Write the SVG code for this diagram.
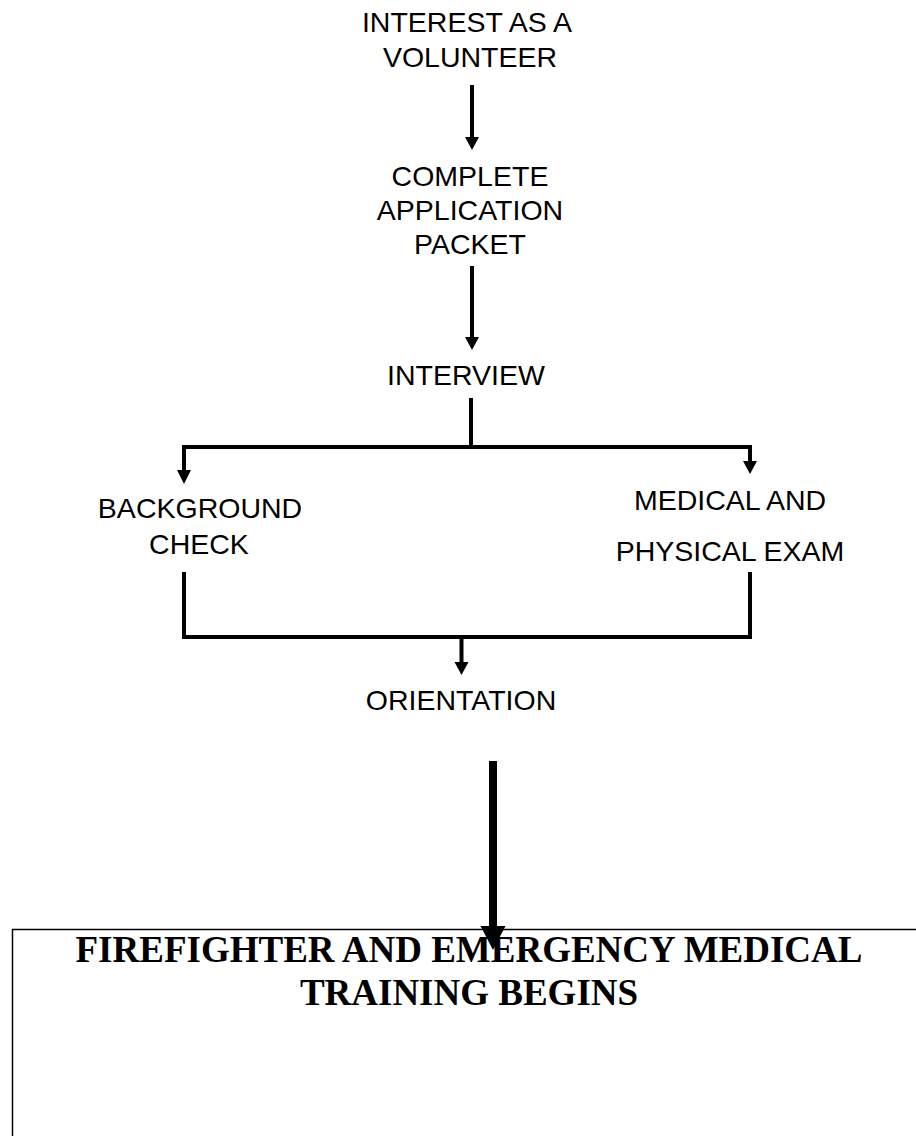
<svg xmlns="http://www.w3.org/2000/svg" width="916" height="1136" viewBox="0 0 916 1136">
<defs>
<style>
.t{font-family:"Liberation Sans",Arial,sans-serif;font-size:28.5px;fill:#000;text-anchor:middle}
.b{font-family:"Liberation Serif","Times New Roman",serif;font-size:37px;font-weight:bold;fill:#000;text-anchor:middle}
.c{stroke:#000;stroke-width:4;fill:none}
.h{fill:#000}
</style>
</defs>
<rect width="916" height="1136" fill="#fff"/>
<g id="connectors">
<line class="c" x1="472" y1="85" x2="472" y2="138"/>
<polygon class="h" points="465,137 479,137 472,150"/>
<line class="c" x1="472" y1="266" x2="472" y2="338"/>
<polygon class="h" points="465,337 479,337 472,350"/>
<polyline class="c" points="471,398 471,447"/>
<polyline class="c" points="184,471 184,447 750,447 750,462"/>
<polygon class="h" points="177,470 191,470 184,484"/>
<polygon class="h" points="743,461 757,461 750,474"/>
<polyline class="c" points="184,572 184,637 750,637 750,572"/>
<line class="c" x1="461.5" y1="637" x2="461.5" y2="663"/>
<polygon class="h" points="454.5,662 468.5,662 461.5,675"/>
<line stroke="#000" stroke-width="8" x1="493" y1="761" x2="493" y2="927"/>
<polygon class="h" points="480.5,926 505.5,926 493,950"/>
</g>
<g id="n1"><text class="t" x="467" y="32">INTEREST AS A</text><text class="t" x="470" y="67">VOLUNTEER</text></g>
<g id="n2"><text class="t" x="470" y="186">COMPLETE</text><text class="t" x="470" y="220">APPLICATION</text><text class="t" x="470" y="254">PACKET</text></g>
<g id="n3"><text class="t" x="466" y="385">INTERVIEW</text></g>
<g id="n4"><text class="t" x="200" y="518">BACKGROUND</text><text class="t" x="199" y="554">CHECK</text></g>
<g id="n5"><text class="t" x="730" y="510">MEDICAL AND</text><text class="t" x="730" y="561">PHYSICAL EXAM</text></g>
<g id="n6"><text class="t" x="461" y="710">ORIENTATION</text></g>
<g id="n7">
<polyline fill="none" stroke="#000" stroke-width="1.5" points="12.5,1140 12.5,929.5 920,929.5"/>
<text class="b" x="469" y="962">FIREFIGHTER AND EMERGENCY MEDICAL</text>
<text class="b" x="469" y="1005">TRAINING BEGINS</text>
</g>
</svg>
